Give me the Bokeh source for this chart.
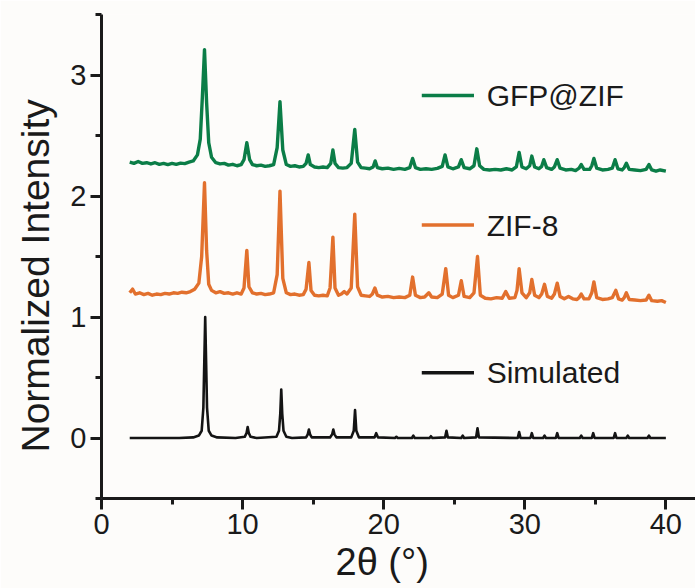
from bokeh.plotting import figure
from bokeh.models import Range1d, FixedTicker, Title, ColumnDataSource
from bokeh.core.properties import value
from bokeh.embed import file_html
from bokeh.resources import INLINE

# ---------------- data ----------------
x_ticks = [0, 10, 20, 30, 40]
y_ticks = [0, 1, 2, 3]
x_title = "2θ (°)"
y_title = "Normalized Intensity"

series_names = ["GFP@ZIF", "ZIF-8", "Simulated"]
series_colors = ["#0b7d47", "#e2702d", "#141414"]

gfp_x = [2.0, 2.3, 2.6, 2.9, 3.2, 3.5, 3.8, 4.1, 4.4, 4.7, 5.0, 5.3, 5.6, 5.9, 6.2, 6.5, 6.8, 7.0, 7.15, 7.3,
         7.45, 7.6, 7.8, 8.1, 8.4, 8.7, 9.0, 9.3, 9.6, 9.9, 10.1, 10.3, 10.5, 10.7, 11.0, 11.3, 11.6, 11.9,
         12.2, 12.45, 12.65, 12.85, 13.1, 13.4, 13.7, 14.0, 14.3, 14.5, 14.65, 14.8, 15.1, 15.4, 15.7, 16.0,
         16.25, 16.4, 16.55, 16.8, 17.1, 17.4, 17.7, 17.95, 18.15, 18.4, 18.7, 19.0, 19.25, 19.4, 19.55,
         19.9, 20.3, 20.7, 21.1, 21.5, 21.85, 22.05, 22.25, 22.6, 23.0, 23.4, 23.8, 24.15, 24.35, 24.55,
         24.9, 25.3, 25.5, 25.7, 26.1, 26.4, 26.6, 26.8, 27.1, 27.5, 27.9, 28.3, 28.7, 29.1, 29.4, 29.6,
         29.8, 30.1, 30.35, 30.5, 30.7, 31.0, 31.2, 31.35, 31.55, 31.9, 32.1, 32.3, 32.5, 32.9, 33.3, 33.6,
         33.85, 34.0, 34.2, 34.6, 34.75, 34.9, 35.1, 35.5, 35.9, 36.2, 36.4, 36.6, 36.9, 37.05, 37.2, 37.4,
         37.8, 38.2, 38.6, 38.8, 39.0, 39.3, 39.6, 40.0]
gfp_y = [2.28, 2.27, 2.285, 2.27, 2.275, 2.265, 2.275, 2.262, 2.27, 2.26, 2.27, 2.262, 2.272, 2.268, 2.28,
         2.29, 2.34, 2.47, 2.82, 3.21, 2.77, 2.44, 2.32, 2.275, 2.265, 2.27, 2.255, 2.262, 2.25, 2.26, 2.3,
         2.44, 2.3, 2.26, 2.25, 2.255, 2.245, 2.25, 2.26, 2.4, 2.78, 2.38, 2.26, 2.245, 2.25, 2.24, 2.245,
         2.27, 2.34, 2.26, 2.24, 2.235, 2.24, 2.235, 2.27, 2.38, 2.27, 2.235, 2.23, 2.235, 2.27, 2.55, 2.28,
         2.235, 2.23, 2.225, 2.24, 2.29, 2.235, 2.225, 2.23, 2.22, 2.228, 2.22, 2.235, 2.31, 2.235, 2.22,
         2.225, 2.22, 2.228, 2.245, 2.34, 2.24, 2.225, 2.24, 2.30, 2.235, 2.225, 2.25, 2.39, 2.25, 2.22,
         2.215, 2.22, 2.215, 2.225, 2.215, 2.24, 2.36, 2.24, 2.225, 2.25, 2.33, 2.24, 2.225, 2.245, 2.30,
         2.235, 2.22, 2.24, 2.30, 2.23, 2.215, 2.22, 2.21, 2.23, 2.26, 2.22, 2.22, 2.25, 2.31, 2.23, 2.215,
         2.22, 2.23, 2.30, 2.225, 2.215, 2.235, 2.27, 2.22, 2.215, 2.21, 2.22, 2.26, 2.215, 2.205, 2.215,
         2.205]

zif_x = [2.0, 2.2, 2.4, 2.7, 3.0, 3.3, 3.6, 3.9, 4.2, 4.5, 4.8, 5.1, 5.4, 5.7, 6.0, 6.3, 6.6, 6.9, 7.1, 7.3,
         7.45, 7.6, 7.8, 8.1, 8.4, 8.7, 9.0, 9.3, 9.6, 9.9, 10.1, 10.3, 10.45, 10.7, 11.0, 11.3, 11.6, 11.9,
         12.2, 12.45, 12.65, 12.85, 13.1, 13.4, 13.7, 14.0, 14.3, 14.5, 14.7, 14.85, 15.1, 15.4, 15.7, 16.0,
         16.2, 16.4, 16.55, 16.8, 17.0, 17.2, 17.4, 17.7, 17.95, 18.15, 18.4, 18.7, 19.0, 19.2, 19.38, 19.55,
         19.9, 20.3, 20.7, 21.1, 21.5, 21.85, 22.05, 22.25, 22.6, 22.9, 23.2, 23.4, 23.8, 24.15, 24.4, 24.6,
         24.9, 25.3, 25.5, 25.7, 26.1, 26.4, 26.65, 26.85, 27.2, 27.6, 28.0, 28.4, 28.65, 28.9, 29.3, 29.45,
         29.6, 29.8, 30.1, 30.35, 30.5, 30.7, 31.0, 31.2, 31.4, 31.6, 31.9, 32.1, 32.3, 32.5, 32.8, 33.1,
         33.4, 33.7, 33.85, 34.0, 34.2, 34.55, 34.75, 34.9, 35.1, 35.5, 35.9, 36.2, 36.45, 36.65, 36.9, 37.05,
         37.2, 37.4, 37.8, 38.2, 38.6, 38.8, 39.0, 39.4, 39.7, 40.0]
zif_y = [1.2, 1.23, 1.19, 1.2, 1.185, 1.195, 1.18, 1.19, 1.185, 1.195, 1.19, 1.2, 1.195, 1.205, 1.2, 1.21,
         1.23, 1.28, 1.5, 2.11, 1.55, 1.27, 1.22, 1.2, 1.21, 1.195, 1.2, 1.19, 1.2, 1.19, 1.24, 1.55, 1.25,
         1.2, 1.19, 1.195, 1.185, 1.19, 1.2, 1.35, 2.04, 1.32, 1.2, 1.185, 1.19, 1.18, 1.185, 1.23, 1.45,
         1.22, 1.18, 1.175, 1.18, 1.175, 1.24, 1.66, 1.24, 1.18, 1.19, 1.21, 1.19, 1.24, 1.85, 1.25, 1.18,
         1.175, 1.17, 1.19, 1.24, 1.18, 1.165, 1.17, 1.16, 1.165, 1.16, 1.18, 1.33, 1.18, 1.16, 1.165, 1.2,
         1.165, 1.16, 1.19, 1.40, 1.18, 1.16, 1.18, 1.30, 1.17, 1.16, 1.2, 1.5, 1.18, 1.155, 1.15, 1.16,
         1.155, 1.21, 1.155, 1.16, 1.22, 1.40, 1.2, 1.16, 1.2, 1.31, 1.18, 1.16, 1.19, 1.27, 1.17, 1.155,
         1.19, 1.28, 1.17, 1.15, 1.17, 1.15, 1.145, 1.16, 1.19, 1.15, 1.15, 1.2, 1.29, 1.16, 1.145, 1.15,
         1.16, 1.22, 1.15, 1.14, 1.16, 1.2, 1.145, 1.14, 1.135, 1.14, 1.18, 1.135, 1.13, 1.135, 1.12]

sim_x = [2.0, 5.5, 6.5, 6.9, 7.1, 7.22, 7.35, 7.48, 7.6, 7.8, 8.2, 9.5, 10.15, 10.28, 10.36, 10.44, 10.57,
         11.0, 12.4, 12.58, 12.67, 12.74, 12.81, 12.9, 13.1, 13.5, 14.5, 14.62, 14.7, 14.78, 14.9, 16.2,
         16.35, 16.43, 16.51, 16.65, 17.7, 17.88, 17.97, 18.06, 18.25, 19.35, 19.47, 19.6, 20.8, 20.9, 21.0,
         22.0, 22.1, 22.2, 23.25, 23.35, 23.45, 24.35, 24.45, 24.55, 25.5, 25.6, 25.7, 26.55, 26.65, 26.75,
         29.5, 29.6, 29.7, 30.4, 30.5, 30.6, 31.3, 31.4, 31.5, 32.2, 32.3, 32.4, 33.9, 34.0, 34.1, 34.75,
         34.85, 34.95, 36.3, 36.4, 36.5, 37.2, 37.3, 37.4, 38.7, 38.8, 38.9, 40.0]
sim_y = [0.0, 0.0, 0.005, 0.02, 0.06, 0.25, 1.0, 0.25, 0.06, 0.02, 0.005, 0.0, 0.01, 0.04, 0.09, 0.04, 0.01,
         0.0, 0.01, 0.06, 0.2, 0.40, 0.2, 0.06, 0.01, 0.0, 0.005, 0.03, 0.07, 0.03, 0.005, 0.005, 0.03, 0.07,
         0.03, 0.005, 0.005, 0.06, 0.23, 0.06, 0.005, 0.005, 0.04, 0.005, 0.0, 0.01, 0.0, 0.0, 0.02, 0.0,
         0.0, 0.015, 0.0, 0.005, 0.06, 0.005, 0.0, 0.02, 0.0, 0.005, 0.08, 0.005, 0.0, 0.05, 0.0, 0.0, 0.04,
         0.0, 0.0, 0.02, 0.0, 0.0, 0.04, 0.0, 0.0, 0.02, 0.0, 0.0, 0.04, 0.0, 0.0, 0.04, 0.0, 0.0, 0.02, 0.0,
         0.0, 0.02, 0.0, 0.0]

# legend: line sample start/end (x) and the level of each entry (y)
legend_x0 = [22.7, 22.7, 22.7]
legend_x1 = [26.4, 26.4, 26.4]
legend_tx = [27.3, 27.3, 27.3]
legend_y = [2.83, 1.76, 0.54]

FONT = "Liberation Sans"
INK = "#1a1a1a"
BG = "#fdfcfa"

p = figure(width=695, height=588, output_backend="svg", toolbar_location=None,
           x_range=Range1d(0, 42.1), y_range=Range1d(-0.5, 3.5),
           min_border_left=101, min_border_right=0, min_border_top=14, min_border_bottom=90,
           background_fill_color=BG, border_fill_color=BG)
p.outline_line_color = None
p.xgrid.visible = False
p.ygrid.visible = False

p.line(sim_x, sim_y, line_color=series_colors[2], line_width=2.6, line_join="round")
p.line(zif_x, zif_y, line_color=series_colors[1], line_width=3.4, line_join="round")
p.line(gfp_x, gfp_y, line_color=series_colors[0], line_width=3.4, line_join="round")

leg = ColumnDataSource(dict(x0=legend_x0, x1=legend_x1, tx=legend_tx, y=legend_y,
                            name=series_names, color=series_colors))
p.segment(x0="x0", y0="y", x1="x1", y1="y", line_color="color", line_width=3.5, source=leg)
p.text(x="tx", y="y", text="name", source=leg, text_font=value(FONT), text_font_size="30px",
       text_color=INK, text_baseline="middle", text_align="left")

for ax in (p.xaxis[0], p.yaxis[0]):
    ax.axis_line_width = 3
    ax.axis_line_color = INK
    ax.major_tick_line_width = 3
    ax.minor_tick_line_width = 3
    ax.major_tick_line_color = INK
    ax.minor_tick_line_color = INK
    ax.major_tick_in = 0
    ax.minor_tick_in = 0
    ax.major_tick_out = 11
    ax.minor_tick_out = 6
    ax.major_label_text_font = FONT
    ax.major_label_text_font_size = "29px"
    ax.major_label_text_color = INK

p.xaxis.ticker = FixedTicker(ticks=x_ticks, minor_ticks=[5, 15, 25, 35])
p.yaxis.ticker = FixedTicker(ticks=y_ticks, minor_ticks=[-0.5, 0.5, 1.5, 2.5, 3.5])
p.xaxis.major_label_standoff = 4
p.yaxis.major_label_standoff = 4

p.add_layout(Title(text=x_title, text_font=FONT, text_font_size="38px", text_font_style="normal",
                   text_color=INK, align="left", offset=234, standoff=4), "below")
p.add_layout(Title(text=y_title, text_font=FONT, text_font_size="39px", text_font_style="normal",
                   text_color=INK, align="left", offset=46, standoff=22), "left")

open("out.html", "w").write(file_html(p, INLINE))
